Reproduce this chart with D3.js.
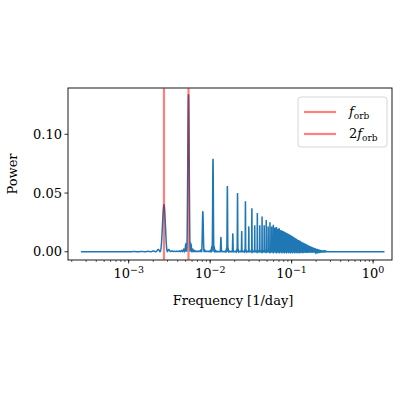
<!DOCTYPE html><html><head><meta charset="utf-8">
<script src="https://cdn.jsdelivr.net/npm/d3@7"></script>
<style>body{margin:0;background:#fff}text{font-family:"DejaVu Serif","Liberation Serif",serif}</style></head><body>
<svg id="c" width="400" height="400"></svg>
<script>
const fOrb = 0.00271;
const fMin = 2.6e-4, fMax = 1.38;
// harmonic peak heights for k = 1,2,3,...
const harmonicPower = [0.040,0.134,0.034,0.079,0.012,0.056,0.015,0.050,0.017,0.043,
 0.021,0.037,0.022,0.033,0.022,0.030,0.022,0.027,0.021,0.025,
 0.021,0.023,0.020,0.021,0.019,0.020,0.018,0.018,0.017,0.017,
 0.016,0.016,0.015,0.015,0.014,0.014,0.013,0.013,0.012,0.012,
 0.011,0.011,0.010,0.010,0.0095,0.009,0.0087,0.0083,0.008,0.0077,
 0.0073,0.007,0.0067,0.0064,0.0061,0.0058,0.0055,0.0052,0.005,0.0047,
 0.0045,0.0042,0.004,0.0038,0.0036,0.0034,0.0032,0.003,0.0028,0.0026,
 0.0025,0.0023,0.0022,0.002,0.0019,0.0018,0.0017,0.0015,0.0014,0.0013,
 0.0012,0.0011,0.001,0.0009,0.0008,0.0008,0.0007,0.0006,0.0006,0.0005,
 0.0005,0.0004,0.0004,0.0003,0.0003,0.0003,0.0002,0.0002,0.0002,0.0001];
const peakWidth = 0.00028;
const yTicks = [0, 0.05, 0.10];
const xTicks = [1e-3, 1e-2, 1e-1, 1];
const legendLabels = ["f", "2f"];

const svg = d3.select("#c");
const L=68,R=392,T=88,B=260;
const x = d3.scaleLog().domain([Math.pow(10,-3.745),Math.pow(10,0.232)]).range([L,R]);
const y = d3.scaleLinear().domain([-0.007,0.1394]).range([B,T]);

function sinc2(u){ if(Math.abs(u)<1e-9) return 1; const s=Math.sin(Math.PI*u)/(Math.PI*u); return s*s; }
const pts=[];
for(let f=fMin; f<=fMax; f+= (f<0.4?0.00002:0.0005)){
  let p=0; const k0=Math.round(f/fOrb);
  for(let k=Math.max(1,k0-6);k<=k0+6;k++){ const h=harmonicPower[k-1]||0; if(h) p+=h*sinc2((f-k*fOrb)/peakWidth); }
  pts.push([f,p]);
}
svg.append("rect").attr("x",L).attr("y",T).attr("width",R-L).attr("height",B-T).attr("fill","none").attr("stroke","#000").attr("stroke-width",0.9);
const g=svg.append("g");
g.append("path").datum(pts).attr("fill","none").attr("stroke","#1f77b4").attr("stroke-width",1.5)
 .attr("d",d3.line().x(d=>x(d[0])).y(d=>y(d[1])));
[fOrb,2*fOrb].forEach(f=>g.append("line").attr("x1",x(f)).attr("x2",x(f)).attr("y1",T).attr("y2",B)
 .attr("stroke","red").attr("stroke-opacity",0.5).attr("stroke-width",2.2));
const xa=svg.append("g").attr("transform",`translate(0,${B})`);
const minors=[];
for(let e=-4;e<=0;e++) for(let m=1;m<10;m++){const v=m*Math.pow(10,e); if(v>=x.domain()[0]&&v<=x.domain()[1]) minors.push(v);}
xa.selectAll(".mn").data(minors).join("line").attr("x1",d=>x(d)).attr("x2",d=>x(d)).attr("y1",0).attr("y2",2).attr("stroke","#000").attr("stroke-width",0.6);
xa.selectAll(".mj").data(xTicks).join("line").attr("x1",d=>x(d)).attr("x2",d=>x(d)).attr("y1",0).attr("y2",3.5).attr("stroke","#000").attr("stroke-width",0.8);
const xt=xa.selectAll(".tl").data(xTicks).join("text").attr("x",d=>x(d)).attr("y",18).attr("text-anchor","middle").attr("font-size",13);
xt.append("tspan").text("10");
xt.append("tspan").attr("dy",-5).attr("font-size",9.5).text(d=>"\u2212"+(-Math.log10(d)).toFixed(0)).filter(d=>d===1).text("0");
const ya=svg.append("g");
ya.selectAll("line").data(yTicks).join("line").attr("x1",L-3.5).attr("x2",L).attr("y1",d=>y(d)).attr("y2",d=>y(d)).attr("stroke","#000").attr("stroke-width",0.8);
ya.selectAll("text").data(yTicks).join("text").attr("x",L-6).attr("y",d=>y(d)+4.5).attr("text-anchor","end").attr("font-size",13).text(d=>d.toFixed(2));
svg.append("text").attr("x",233).attr("y",305).attr("text-anchor","middle").attr("font-size",13).text("Frequency [1/day]");
svg.append("text").attr("transform","translate(17,174) rotate(-90)").attr("text-anchor","middle").attr("font-size",13).text("Power");
const lg=svg.append("g");
lg.append("rect").attr("x",298).attr("y",97).attr("width",89).attr("height",50).attr("rx",3).attr("fill","#fff").attr("fill-opacity",0.8).attr("stroke","#ccc").attr("stroke-width",0.8);
legendLabels.forEach((t,i)=>{
  const yy=112+i*22;
  lg.append("line").attr("x1",304).attr("x2",336).attr("y1",yy).attr("y2",yy).attr("stroke","red").attr("stroke-opacity",0.5).attr("stroke-width",2.2);
  const tx=lg.append("text").attr("x",349).attr("y",yy+4).attr("font-size",13);
  if(t==="2f") tx.append("tspan").text("2");
  tx.append("tspan").attr("font-style","italic").text("f");
  tx.append("tspan").attr("dy",3).attr("font-size",9).text("orb");
});
</script></body></html>
